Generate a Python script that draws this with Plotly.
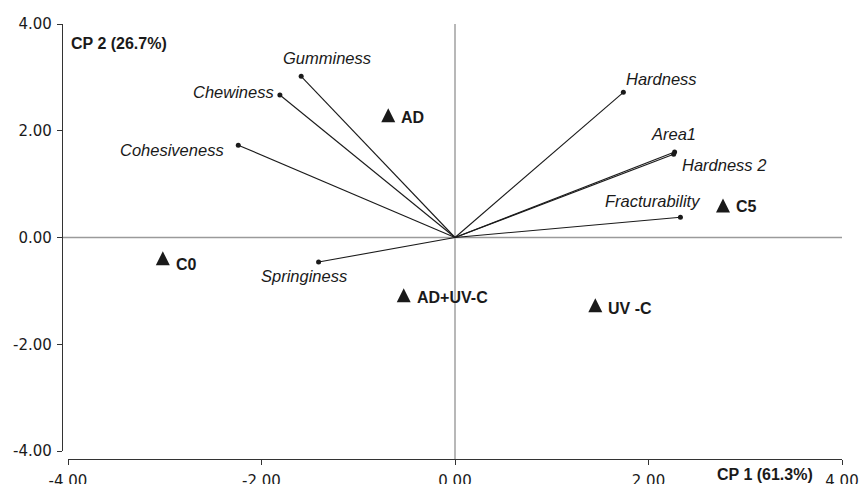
import plotly.graph_objects as go

# Loadings of the texture variables on the first two principal components
VARIABLES = ["Hardness", "Area1", "Hardness 2", "Fracturability",
             "Springiness", "Cohesiveness", "Chewiness", "Gumminess"]
VAR_CP1 = [1.74, 2.27, 2.26, 2.33, -1.41, -2.24, -1.81, -1.59]
VAR_CP2 = [2.72, 1.60, 1.56, 0.38, -0.46, 1.73, 2.67, 3.02]

# Scores of the treatments
TREATMENTS = ["AD", "C0", "AD+UV-C", "UV -C", "C5"]
TRT_CP1 = [-0.69, -3.02, -0.53, 1.45, 2.77]
TRT_CP2 = [2.29, -0.39, -1.08, -1.27, 0.60]

TICK_VALUES = [-4, -2, 0, 2, 4]
TICK_LABELS = ["-4.00", "-2.00", "0.00", "2.00", "4.00"]

X_TITLE = "CP 1 (61.3%)"
Y_TITLE = "CP 2 (26.7%)"

# label placement (pixel offsets of the label centre from the vector tip)
VAR_LABEL_SHIFT = {
    "Hardness": (38, -13),
    "Area1": (-1, -18),
    "Hardness 2": (50, 11),
    "Fracturability": (-27, -16),
    "Springiness": (-15, 14),
    "Cohesiveness": (-66, 5),
    "Chewiness": (-46, -3),
    "Gumminess": (26, -18),
}
TRT_LABEL_SHIFT = {"AD": -2, "C0": -6, "AD+UV-C": -2, "UV -C": -3, "C5": -1}

INK = "#1a1a1a"
W, H = 861, 484
ML, MR, MT, MB = 62, 19, 24, 25
PW, PH = W - ML - MR, H - MT - MB

fig = go.Figure()

# loading vectors drawn from the origin
seg_x, seg_y = [], []
for cx, cy in zip(VAR_CP1, VAR_CP2):
    seg_x += [0, cx, None]
    seg_y += [0, cy, None]
fig.add_trace(go.Scatter(x=seg_x, y=seg_y, mode="lines",
                         line=dict(color=INK, width=1.1), hoverinfo="skip",
                         showlegend=False, cliponaxis=False))
fig.add_trace(go.Scatter(x=VAR_CP1, y=VAR_CP2, mode="markers",
                         marker=dict(color=INK, size=5), text=VARIABLES,
                         showlegend=False, cliponaxis=False))

# treatment scores as solid triangles
fig.add_trace(go.Scatter(x=TRT_CP1, y=TRT_CP2, mode="markers",
                         marker=dict(symbol="arrow-down", angle=180, standoff=7,
                                     size=14, color=INK),
                         text=TREATMENTS, showlegend=False, cliponaxis=False))

annotations = []
for name, cx, cy in zip(VARIABLES, VAR_CP1, VAR_CP2):
    dx, dy = VAR_LABEL_SHIFT[name]
    annotations.append(dict(x=cx, y=cy, xref="x", yref="y", text=name,
                            showarrow=False, xanchor="center", yanchor="middle",
                            xshift=dx, yshift=-dy,
                            font=dict(family="Liberation Sans, Arial", size=16.5,
                                      color=INK, style="italic")))
for name, cx, cy in zip(TREATMENTS, TRT_CP1, TRT_CP2):
    annotations.append(dict(x=cx, y=cy, xref="x", yref="y", text=name,
                            showarrow=False, xanchor="left", yanchor="middle",
                            xshift=11, yshift=TRT_LABEL_SHIFT[name],
                            font=dict(family="Liberation Sans, Arial", size=16,
                                      color=INK, weight="bold")))

title_font = dict(family="Liberation Sans, Arial", size=16, color=INK, weight="bold")
annotations.append(dict(x=(69 - ML) / PW, y=1, xref="paper", yref="paper",
                        text=Y_TITLE, showarrow=False, xanchor="left", yanchor="top",
                        yshift=-9, font=title_font))
annotations.append(dict(x=(815 - ML) / PW, y=0, xref="paper", yref="paper",
                        text=X_TITLE, showarrow=False, xanchor="right", yanchor="middle",
                        yshift=-15, font=title_font))

# reference lines through the origin
shapes = [
    dict(type="line", xref="paper", yref="y", x0=0, x1=1, y0=0, y1=0,
         line=dict(color="#9a9a9a", width=1.4), layer="below"),
    dict(type="line", xref="x", yref="paper", x0=0, x1=0, y0=0, y1=1,
         line=dict(color="#9a9a9a", width=1.4), layer="below"),
]

tick_font = dict(family="DejaVu Sans", size=15, color=INK)
axis_common = dict(range=[-4, 4], tickvals=TICK_VALUES, ticktext=TICK_LABELS,
                   showgrid=False, zeroline=False, showline=True,
                   linecolor="#333333", linewidth=1.2, ticks="outside",
                   ticklen=5, tickcolor="#333333", tickwidth=1.2,
                   tickfont=tick_font, automargin=False, anchor="free", position=0)

fig.update_layout(
    template="none",
    width=W, height=H,
    margin=dict(l=ML, r=MR, t=MT, b=MB),
    paper_bgcolor="white", plot_bgcolor="white",
    xaxis=dict(domain=[6 / PW, 1], ticklabelstandoff=3, **axis_common),
    yaxis=dict(domain=[8 / PH, 1], ticklabelstandoff=2, **axis_common),
    annotations=annotations,
    shapes=shapes,
    showlegend=False,
)

fig.write_html("out.html")
